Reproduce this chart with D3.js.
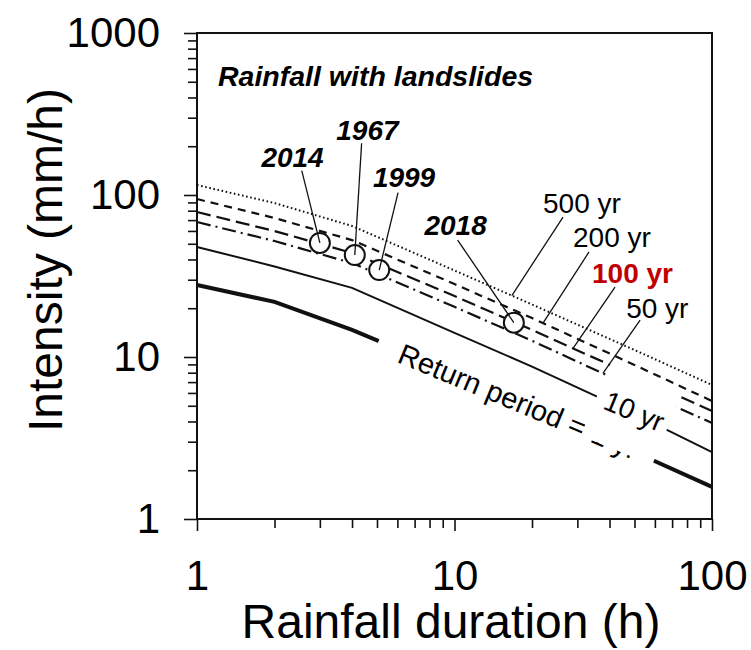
<!DOCTYPE html>
<html>
<head>
<meta charset="utf-8">
<script src="https://cdn.jsdelivr.net/npm/d3@7"></script>
<style>
  body { margin: 0; background: #fff; }
  svg text { font-family: "Liberation Sans", Arial, Helvetica, sans-serif; }
</style>
</head>
<body>
<svg id="chart" width="751" height="650"></svg>
<script>
// Rainfall intensity-duration curves for several return periods (log-log)
const durations = [1, 2, 4, 10, 20, 50, 100];           // h
const rp500 = [115.3, 89.2, 64.4, 34.2, 21.1, 11.05, 6.72]; // mm/h
const rp200 = [94.4, 72.1, 52.7, 28.2, 17.4, 8.93, 5.35];
const rp100 = [78.5, 59.9, 43.9, 23.8, 14.7, 7.63, 4.64];
const rp50  = [68.1, 52.0, 38.0, 20.4, 12.6, 6.44, 3.91];
const rp10  = [47.8, 36.2, 26.7, 14.1, 8.73, 4.45, 2.59];
const rp1   = [27.8, 21.9, 14.7, 7.97, 4.93, 2.59, 1.58];

// Rainfall events that triggered landslides
const eventYears = ["2014", "1967", "1999", "2018"];
const eventDuration = [3, 4.1, 5.1, 17];
const eventIntensity = [50.6, 42.6, 34.4, 16.3];

const xTicks = [1, 10, 100];
const xTickLabels = ["1", "10", "100"];
const yTicks = [1, 10, 100, 1000];
const yTickLabels = ["1", "10", "100", "1000"];

const svg = d3.select("#chart");
const m = { left: 197, right: 712, top: 33, bottom: 519 };

const x = d3.scaleLog().domain([1, 100]).range([m.left, m.right]);
const y = d3.scaleLog().domain([1, 1000]).range([m.bottom, m.top]);

// series definitions: values + line style
const series = [
  { name: "500 yr", vals: rp500, width: 2, dash: "1.6,2.6" },
  { name: "200 yr", vals: rp200, width: 2.2, dash: "8,6" },
  { name: "100 yr", vals: rp100, width: 2.2, dash: "14,6" },
  { name: "50 yr",  vals: rp50,  width: 2.2, dash: "14,5,2,5" },
  { name: "10 yr",  vals: rp10,  width: 2,   dash: null },
  { name: "1 yr",   vals: rp1,   width: 4,   dash: null }
];

// log-log interpolation of a series at a duration
function valueAt(vals, d) {
  const ld = Math.log10(d);
  for (let i = 0; i < durations.length - 1; i++) {
    const a = Math.log10(durations[i]), b = Math.log10(durations[i + 1]);
    if (ld >= a && ld <= b) {
      const t = (ld - a) / (b - a);
      return Math.pow(10, Math.log10(vals[i]) * (1 - t) + Math.log10(vals[i + 1]) * t);
    }
  }
  return vals[vals.length - 1];
}

const line = d3.line().x(d => x(d[0])).y(d => y(d[1]));

const plot = svg.append("g");

plot.selectAll("path.curve")
  .data(series)
  .join("path")
  .attr("class", "curve")
  .attr("d", s => line(durations.map((d, i) => [d, s.vals[i]])))
  .attr("fill", "none")
  .attr("stroke", "#111")
  .attr("stroke-width", s => s.width)
  .attr("stroke-dasharray", s => s.dash);

// event markers
const events = eventYears.map((yr, i) => ({ yr, d: eventDuration[i], v: eventIntensity[i] }));
plot.selectAll("circle.event")
  .data(events)
  .join("circle")
  .attr("class", "event")
  .attr("cx", e => x(e.d))
  .attr("cy", e => y(e.v))
  .attr("r", 10)
  .attr("fill", "#fff")
  .attr("stroke", "#111")
  .attr("stroke-width", 2);

// rotated in-plot labels with white backing boxes
const angle = 22.5;
function rotatedLabel(text, d, v, size, opts) {
  const g = plot.append("g")
    .attr("transform", `translate(${x(d)},${y(v)}) rotate(${angle})`);
  const rect = g.append("rect").attr("fill", "#fff");
  const t = g.append("text")
    .attr("x", 0).attr("y", 0)
    .attr("font-size", size)
    .attr("fill", "#000")
    .text(text);
  const w = t.node().getComputedTextLength();
  rect.attr("x", -opts.padL).attr("y", -opts.padT)
      .attr("width", w + opts.padL + opts.padR)
      .attr("height", opts.padT + opts.padB);
}
rotatedLabel("Return period = 1 yr", 5.93, 9.35, 29, { padL: 24, padR: 13, padT: 30, padB: 8 });
rotatedLabel("10 yr", 37.3, 4.82, 28, { padL: 9, padR: 6, padT: 46, padB: 33 });

// return period labels with leader lines
const rpLabels = [
  { text: "500 yr", vals: rp500, at: 16.7, lx: 22.07, ly: 77.4, off: [20, 4], color: "#000", weight: "normal" },
  { text: "200 yr", vals: rp200, at: 22.07, lx: 28.86, ly: 47.8, off: [16, 5], color: "#000", weight: "normal" },
  { text: "100 yr", vals: rp100, at: 28.86, lx: 34.2, ly: 28.6, off: [23, 4], color: "#c00000", weight: "bold" },
  { text: "50 yr",  vals: rp50,  at: 37.7, lx: 46.4, ly: 17.4, off: [14, 2], color: "#000", weight: "normal" }
];
rpLabels.forEach(l => {
  const tx = x(l.lx), ty = y(l.ly);
  plot.append("line")
    .attr("x1", tx + l.off[0]).attr("y1", ty + l.off[1])
    .attr("x2", x(l.at)).attr("y2", y(valueAt(l.vals, l.at)))
    .attr("stroke", "#111").attr("stroke-width", 1.3);
  plot.append("text")
    .attr("x", tx).attr("y", ty)
    .attr("font-size", 28)
    .attr("font-weight", l.weight)
    .attr("fill", l.color)
    .text(l.text);
});

// event year labels with leader lines to the markers
const yearLayout = [
  { lx: 2.35, ly: 148.9, off: [9.2, 3.7] },
  { lx: 4.59, ly: 218.5, off: [-5.8, 3.3] },
  { lx: 6.37, ly: 112.5, off: [-6, 6] },
  { lx: 10.1, ly: 56.6, off: [2, 5] }
];
events.forEach((e, i) => {
  const L = yearLayout[i];
  const tx = x(L.lx), ty = y(L.ly);
  plot.append("line")
    .attr("x1", tx + L.off[0]).attr("y1", ty + L.off[1])
    .attr("x2", x(e.d)).attr("y2", y(e.v))
    .attr("stroke", "#111").attr("stroke-width", 1.3);
  plot.append("text")
    .attr("x", tx).attr("y", ty)
    .attr("text-anchor", "middle")
    .attr("font-size", 28)
    .attr("font-weight", "bold")
    .attr("font-style", "italic")
    .text(e.yr);
});

// panel title
plot.append("text")
  .attr("x", 218).attr("y", 86)
  .attr("font-size", 28.5)
  .attr("font-weight", "bold")
  .attr("font-style", "italic")
  .text("Rainfall with landslides");

// axes: minor ticks
function minorTicks(lo, hi) {
  const out = [];
  for (let p = lo; p < hi; p *= 10)
    for (let k = 2; k <= 9; k++) out.push(p * k);
  return out;
}
const xMinor = minorTicks(1, 100);
const yMinor = minorTicks(1, 1000);

const axisStyle = g => {
  g.select(".domain").remove();
  g.selectAll(".tick line").attr("stroke", "#111").attr("stroke-width", 1.6);
  g.selectAll("text").attr("font-size", 42).attr("fill", "#000")
    .attr("font-family", "'Liberation Sans', Arial, sans-serif");
};

svg.append("g")
  .attr("transform", `translate(0,${m.bottom})`)
  .call(d3.axisBottom(x).tickValues(xMinor).tickSize(9).tickFormat(""))
  .call(axisStyle);
svg.append("g")
  .attr("transform", `translate(0,${m.bottom})`)
  .call(d3.axisBottom(x).tickValues(xTicks).tickSize(12).tickPadding(29)
        .tickFormat((d, i) => xTickLabels[i]))
  .call(axisStyle);

svg.append("g")
  .attr("transform", `translate(${m.left},0)`)
  .call(d3.axisLeft(y).tickValues(yMinor).tickSize(9).tickFormat(""))
  .call(axisStyle);
svg.append("g")
  .attr("transform", `translate(${m.left},0)`)
  .call(d3.axisLeft(y).tickValues(yTicks).tickSize(13).tickPadding(24)
        .tickFormat((d, i) => yTickLabels[i]))
  .call(axisStyle);

// frame
svg.append("rect")
  .attr("x", m.left).attr("y", m.top)
  .attr("width", m.right - m.left).attr("height", m.bottom - m.top)
  .attr("fill", "none").attr("stroke", "#111").attr("stroke-width", 2);

// axis titles
svg.append("text")
  .attr("x", 451).attr("y", 638)
  .attr("text-anchor", "middle")
  .attr("font-size", 48)
  .text("Rainfall duration (h)");
svg.append("text")
  .attr("transform", "translate(62,260) rotate(-90)")
  .attr("text-anchor", "middle")
  .attr("font-size", 48)
  .text("Intensity (mm/h)");
</script>
</body>
</html>
